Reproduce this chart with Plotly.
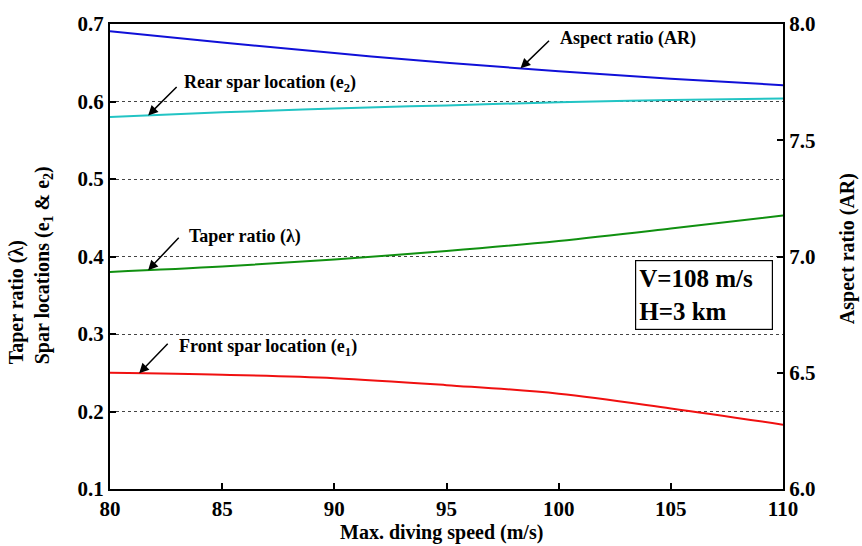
import numpy as np
import plotly.graph_objects as go

# ---- data ----
speed = [80, 85, 90, 95, 100, 105, 110]
aspect_ratio = [7.969, 7.920, 7.875, 7.833, 7.797, 7.765, 7.737]
rear_spar = [0.580, 0.586, 0.591, 0.595, 0.599, 0.602, 0.604]
taper_ratio = [0.380, 0.387, 0.396, 0.407, 0.420, 0.436, 0.453]
front_spar = [0.250, 0.2475, 0.243, 0.234, 0.223, 0.204, 0.183]

x_ticks = [80, 85, 90, 95, 100, 105, 110]
y_ticks = [0.1, 0.2, 0.3, 0.4, 0.5, 0.6, 0.7]
y2_ticks = [6.0, 6.5, 7.0, 7.5, 8.0]

FONT = "Liberation Serif"
W, H = 862, 546
L, R, T, B = 110, 79, 16, 57

fig = go.Figure()
fig.add_trace(go.Scatter(x=speed, y=rear_spar, mode="lines", line=dict(color="#22c4c4", width=2, shape="spline")))
fig.add_trace(go.Scatter(x=speed, y=taper_ratio, mode="lines", line=dict(color="#109010", width=2, shape="spline")))
fig.add_trace(go.Scatter(x=speed, y=front_spar, mode="lines", line=dict(color="#f01010", width=2, shape="spline")))
fig.add_trace(go.Scatter(x=speed, y=aspect_ratio, mode="lines", yaxis="y2",
                         line=dict(color="#1010d8", width=2, shape="spline")))

def font(size, color="black"):
    return dict(family=FONT, size=size, color=color, weight="bold")

# y1 equivalent of AR (for the arrow tip)
def ar_to_y1(v):
    return 0.1 + (v - 6.0) * (0.6 / 2.0)

ar_y1 = [ar_to_y1(v) for v in aspect_ratio]

arrows = [
    (98.3, ar_y1, 30, -29),
    (81.7, rear_spar, 30, -30),
    (81.7, taper_ratio, 32, -34),
    (81.3, front_spar, 30, -31),
]
annotations = []
for xt, series, ax, ay in arrows:
    yt = float(np.interp(xt, speed, series))
    annotations.append(dict(x=xt, y=yt, xref="x", yref="y", text="", showarrow=True,
                            ax=ax, ay=ay, arrowhead=2, arrowsize=1.3, arrowwidth=1.5,
                            arrowcolor="black", standoff=0))

labels = [
    (99.97, 0.681, "Aspect ratio (AR)"),
    (83.21, 0.6226, "Rear spar location (e<sub>2</sub>)"),
    (83.43, 0.426, "Taper ratio (λ)"),
    (82.99, 0.2826, "Front spar location (e<sub>1</sub>)"),
]
for xl, yl, txt in labels:
    annotations.append(dict(x=xl, y=yl, xref="x", yref="y", text=txt, showarrow=False,
                            xanchor="left", yanchor="middle", font=font(18)))

# condition box
annotations.append(dict(x=106.48, y=0.3499, xref="x", yref="y",
                        text="V=108 m/s<br>H=3 km", showarrow=False, align="left",
                        xanchor="center", yanchor="middle", font=font(25),
                        bordercolor="black", borderwidth=1.2, borderpad=3,
                        bgcolor="white", width=130, height=62))

# axis titles
annotations.append(dict(x=(30 - L) / (W - L - R), y=(H - B - 261.5) / (H - T - B), xref="paper", yref="paper",
                        text="Taper ratio (λ)<br>Spar locations (e<sub>1</sub> & e<sub>2</sub>)",
                        showarrow=False, textangle=-90, align="left",
                        xanchor="center", yanchor="middle", font=font(20)))
annotations.append(dict(x=(847 - L) / (W - L - R), y=(H - B - 245) / (H - T - B), xref="paper", yref="paper",
                        text="Aspect ratio (AR)", showarrow=False, textangle=-90,
                        xanchor="center", yanchor="middle", font=font(20)))
annotations.append(dict(x=(441 - L) / (W - L - R), y=(H - B - 533) / (H - T - B), xref="paper", yref="paper",
                        text="Max. diving speed (m/s)", showarrow=False,
                        xanchor="center", yanchor="middle", font=font(20)))

fig.update_layout(
    width=W, height=H, margin=dict(l=L, r=R, t=T, b=B),
    paper_bgcolor="white", plot_bgcolor="white", showlegend=False,
    font=font(20),
    xaxis=dict(range=[80, 110], tickvals=x_ticks, ticks="inside", ticklen=6, tickwidth=1.5,
               tickcolor="black", showline=True, linecolor="black", linewidth=2, mirror=True,
               showgrid=False, zeroline=False, tickfont=font(21)),
    yaxis=dict(range=[0.1, 0.7], tickvals=y_ticks, tickformat=".1f", ticks="inside", ticklen=6,
               tickwidth=1.5, tickcolor="black", showline=True, linecolor="black", linewidth=2,
               showgrid=True, gridcolor="#444444", griddash="dot", gridwidth=1,
               zeroline=False, tickfont=font(21)),
    yaxis2=dict(range=[6.0, 8.0], tickvals=y2_ticks, tickformat=".1f", overlaying="y", side="right",
                ticks="inside", ticklen=6, tickwidth=1.5, tickcolor="black",
                showline=True, linecolor="black", linewidth=2, showgrid=False, zeroline=False,
                tickfont=font(21)),
    annotations=annotations,
)

fig.write_html("out.html")
